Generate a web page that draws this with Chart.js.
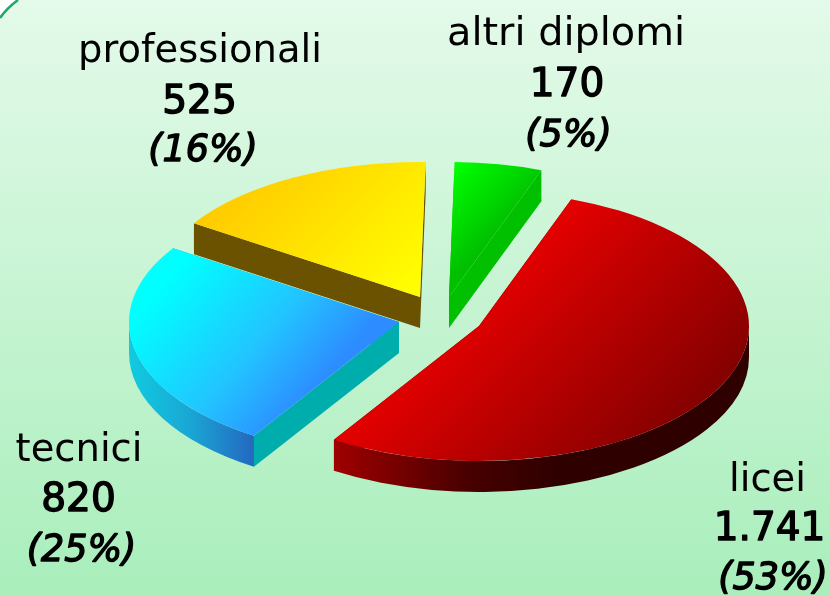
<!DOCTYPE html>
<html><head><meta charset="utf-8">
<style>html,body{margin:0;padding:0;background:#fff;overflow:hidden}canvas{display:block}</style>
<script src="https://cdn.jsdelivr.net/npm/chart.js@4"></script>
</head><body>
<canvas id="c" width="830" height="595"></canvas>
<script>
const categories = ["licei", "tecnici", "professionali", "altri diplomi"];
const values = [1741, 820, 525, 170];
const valueLabels = ["1.741", "820", "525", "170"];
const percentLabels = ["(53%)", "(25%)", "(16%)", "(5%)"];

// styling
const FONT = '"DejaVu Sans"';
const SQUASH = 0.5, DEPTH = 31, RADIUS = 270;
const sliceCentres = [[479,326],[399,322],[420,297],[449,297]];
const drawOrder = [1,2,3,0];
const nameSizes = [38.5,38.5,38.5,39.8];
const topStops = [
  {from:[500,260],to:[670,430],stops:[[0,'#e80000'],[1,'#860000']]},
  {from:[210,230],to:[350,350],stops:[[0,'#00ffff'],[0.6,'#22c4ff'],[1,'#2d8cff']]},
  {from:[200,205],to:[350,355],stops:[[0,'#ffc800'],[1,'#ffff00']]},
  {from:[455,165],to:[510,220],stops:[[0,'#00ff00'],[1,'#00c000']]}
];
const rimStops = [
  {x0:333,x1:560,stops:[[0,'#a00000'],[0.6,'#480000'],[1,'#2e0000']]},
  {x0:128,x1:253,stops:[[0,'#10cce0'],[0.5,'#1aa6d4'],[1,'#2468c0']]},
  {x0:195,x1:427,stops:[[0,'#6b5200'],[1,'#6b5200']]},
  {x0:450,x1:542,stops:[[0,'#00c000'],[1,'#00bc00']]}
];
const faceColors = ['#6a0000','#00adad','#6b5200','#00c000'];
const labelLayout = [
  {x:[767.5,769.5,773], y:[491,540,589]},
  {x:[79,78.5,81.5], y:[461,511,561]},
  {x:[200,199.5,203], y:[62,113,161]},
  {x:[566,567,568.5], y:[45,96,146]}
];

const canvas = document.getElementById('c');
const g = canvas.getContext('2d');
const CX = 415, CY = 297.5;

// A gradient given in screen terms, rebuilt in the untilted space of the arc element.
function topGradient(i){
  const s = topStops[i], c = sliceCentres[i];
  const dx = s.to[0]-s.from[0], dy = s.to[1]-s.from[1], L2 = dx*dx+dy*dy;
  const wx = dx/L2, wy = SQUASH*dy/L2, W2 = wx*wx+wy*wy;
  const vx = wx/W2, vy = wy/W2;
  const ax = CX + s.from[0]-c[0], ay = CY + (s.from[1]-c[1])/SQUASH;
  const gr = g.createLinearGradient(ax,ay,ax+vx,ay+vy);
  s.stops.forEach(t=>gr.addColorStop(t[0],t[1]));
  return gr;
}

function heavyText(ctx,text,x,y){
  ctx.fillText(text,x,y);
  ctx.strokeText(text,x,y);
}

const pie3d = {
  id:'pie3d',
  beforeDraw(chart){
    const ctx = chart.ctx, W = chart.width, H = chart.height;
    const bg = ctx.createLinearGradient(0,0,0,H);
    bg.addColorStop(0,'#e4faea'); bg.addColorStop(1,'#a9eebb');
    ctx.save();
    ctx.fillStyle = '#fff'; ctx.fillRect(0,0,W,H);
    ctx.beginPath();
    ctx.moveTo(0,18); ctx.quadraticCurveTo(7,8,18,0); ctx.lineTo(W,0); ctx.lineTo(W,H); ctx.lineTo(0,H); ctx.closePath();
    ctx.fillStyle = bg; ctx.fill();
    ctx.beginPath(); ctx.moveTo(0,18); ctx.quadraticCurveTo(7,8,18,0);
    ctx.strokeStyle = '#1fa866'; ctx.lineWidth = 2.5; ctx.stroke();
    ctx.restore();
  },
  beforeDatasetDraw(chart){
    const ctx = chart.ctx, meta = chart.getDatasetMeta(0);
    drawOrder.forEach(i=>{
      const el = meta.data[i], [cx,cy] = sliceCentres[i];
      const r = el.outerRadius, a0 = el.startAngle, a1 = el.endAngle;
      const px = a => cx + r*Math.cos(a), py = a => cy + r*SQUASH*Math.sin(a);
      ctx.fillStyle = faceColors[i];
      [a0,a1].forEach(a=>{
        ctx.beginPath(); ctx.moveTo(cx,cy); ctx.lineTo(px(a),py(a));
        ctx.lineTo(px(a),py(a)+DEPTH); ctx.lineTo(cx,cy+DEPTH); ctx.closePath(); ctx.fill();
      });
      const rs = rimStops[i];
      const rg = ctx.createLinearGradient(rs.x0,0,rs.x1,0);
      rs.stops.forEach(t=>rg.addColorStop(t[0],t[1]));
      ctx.fillStyle = rg;
      for(let k=-1;k<=1;k++){
        const lo = Math.max(a0, k*2*Math.PI), hi = Math.min(a1, k*2*Math.PI+Math.PI);
        if(hi>lo){
          ctx.beginPath();
          ctx.ellipse(cx,cy,r,r*SQUASH,0,lo,hi);
          ctx.ellipse(cx,cy+DEPTH,r,r*SQUASH,0,hi,lo,true);
          ctx.closePath(); ctx.fill();
        }
      }
      ctx.save();
      ctx.translate(cx,cy); ctx.scale(1,SQUASH); ctx.translate(-el.x,-el.y);
      el.draw(ctx);
      ctx.restore();
    });
    return false;
  },
  afterDatasetsDraw(chart){
    const ctx = chart.ctx;
    ctx.save();
    ctx.fillStyle = '#000'; ctx.strokeStyle = '#000'; ctx.lineWidth = 1.4; ctx.lineJoin = 'round';
    ctx.textAlign = 'center'; ctx.textBaseline = 'alphabetic';
    categories.forEach((name,i)=>{
      const L = labelLayout[i];
      ctx.font = `${nameSizes[i]}px ${FONT}`;
      ctx.fillText(name, L.x[0], L.y[0]);
      ctx.font = `39px ${FONT}`;
      heavyText(ctx, valueLabels[i], L.x[1], L.y[1]);
      ctx.font = `italic 36.5px ${FONT}`;
      heavyText(ctx, percentLabels[i], L.x[2], L.y[2]);
    });
    ctx.restore();
  }
};

new Chart(canvas,{
  type:'pie',
  data:{labels:categories,datasets:[{data:values,backgroundColor:categories.map((_,i)=>topGradient(i)),borderWidth:0}]},
  options:{
    responsive:false,animation:false,rotation:20,radius:RADIUS,
    layout:{padding:0},
    plugins:{legend:{display:false},tooltip:{enabled:false},title:{display:false}}
  },
  plugins:[pie3d]
});
</script>
</body></html>
